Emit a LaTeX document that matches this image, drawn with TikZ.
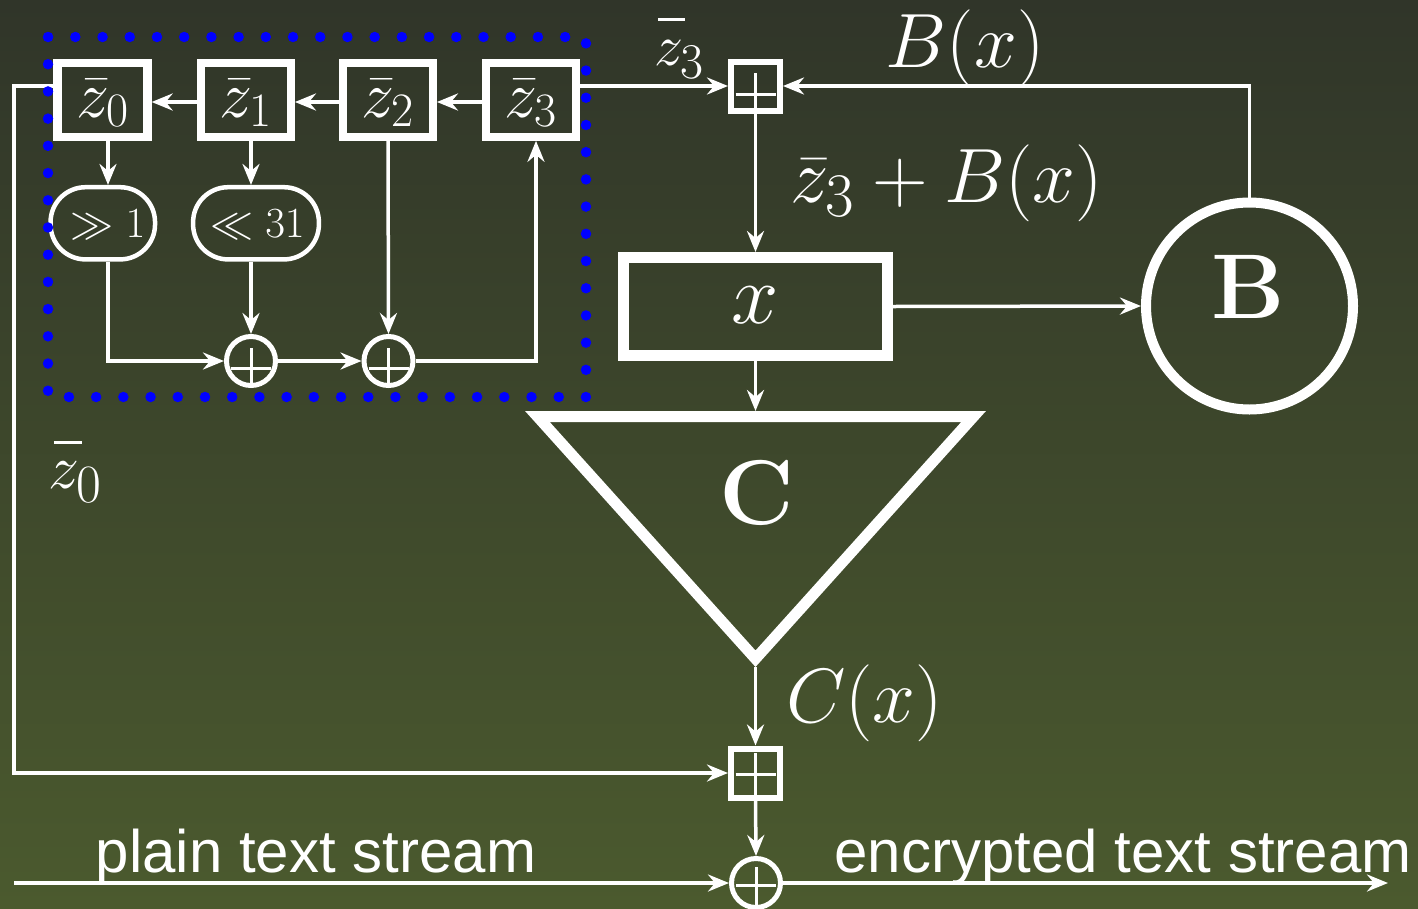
\RequirePackage{fix-cm}
\documentclass[tikz,border=0pt]{standalone}
\usepackage[no-math]{fontspec}
\newfontfamily\sansf{Liberation Sans}
\usetikzlibrary{arrows.meta,calc}
\definecolor{bgtop}{RGB}{48,53,41}
\definecolor{bgbot}{RGB}{75,90,46}
\newcommand{\mysub}[2]{_{\mbox{\fontsize{#1}{#1}\selectfont #2}}}
% z with a manually placed, raised bar: #1 = shift right, #2 = bar width
\newcommand{\highbarz}[2]{\mbox{\rlap{\hspace{#1}\rule[44pt]{#2}{3pt}}}z}
\newcommand{\fsreg}{\fontsize{66}{72}\selectfont}
\newcommand{\fsshift}{\fontsize{43}{48}\selectfont}
\newcommand{\fsbig}{\fontsize{77}{86}\selectfont}
\newcommand{\fstop}{\fontsize{58}{64}\selectfont}
\newcommand{\fsleft}{\fontsize{62}{70}\selectfont}
\newcommand{\fsx}{\fontsize{85}{95}\selectfont}
\newcommand{\fsbold}{\fontsize{92}{100}\selectfont\bfseries}
\newcommand{\fssans}{\sansf\fontsize{60}{70}\selectfont}
\begin{document}
\begin{tikzpicture}[x=1pt,y=-1pt,
  wl/.style={white, line width=3.5},
  arr/.style={wl, -{Stealth[length=21pt,width=17pt,inset=7pt]}},
  plusln/.style={white, line width=3},
  reg/.style={draw=white, line width=8.3, rectangle, minimum width=90, minimum height=73.4, inner sep=0},
  shiftbox/.style={draw=white, line width=4.5, rectangle, rounded corners=35, minimum height=72.2, inner sep=0},
  oplusnode/.style={draw=white, line width=5, circle, minimum size=49, inner sep=0},
  bplus/.style={draw=white, line width=6, rectangle, minimum size=49, inner sep=0},
  lbl/.style={text=white, inner sep=0, anchor=base},
]
\shade[top color=bgtop, bottom color=bgbot] (0,0) rectangle (1418,908);
\useasboundingbox (0,0) rectangle (1418,908);

% helper coordinates
\coordinate (c0) at (108,0);
\coordinate (c1) at (251,0);
\coordinate (c2) at (388,0);
\coordinate (c3) at (536,0);
\coordinate (r0) at (0,86);
\coordinate (lft) at (14,0);

% register boxes
\node[reg] (z0) at (102.5,100) {};
\node[reg] (z1) at (245.8,100) {};
\node[reg] (z2) at (387.8,100) {};
\node[reg] (z3) at (530.8,100) {};
\node[lbl, font=\fsreg] (z0t) at (102.5,117) {$\bar{z}\mysub{48}{0}$};
\node[lbl, font=\fsreg] (z1t) at (245.8,117) {$\bar{z}\mysub{48}{1}$};
\node[lbl, font=\fsreg] (z2t) at (387.8,117) {$\bar{z}\mysub{48}{2}$};
\node[lbl, font=\fsreg] (z3t) at (530.8,117) {$\bar{z}\mysub{48}{3}$};

% shift nodes
\node[shiftbox, minimum width=104.5] (s1) at (102.8,223.3) {};
\node[shiftbox, minimum width=125.8] (s2) at (256,223.3) {};
\node[lbl, font=\fsshift] (s1t) at (108,237) {$\gg 1$};
\node[lbl, font=\fsshift] (s2t) at (257.5,237) {$\ll 31$};

% xor circles in LFSR
\node[oplusnode] (p1) at (251,361) {};
\node[oplusnode] (p2) at (388.5,361) {};
\foreach \n in {p1,p2}{
  \draw[plusln] ($(\n)+(-20,7)$) -- ($(\n)+(20,7)$);
  \draw[plusln] ($(\n)+(0,-13)$) -- ($(\n)+(0,25)$);
}

% LFSR connectors
\draw[arr] ($(z3.west)+(0,2)$) -- ($(z2.east)+(0,2)$);
\draw[arr] ($(z2.west)+(0,2)$) -- ($(z1.east)+(0,2)$);
\draw[arr] ($(z1.west)+(0,2)$) -- ($(z0.east)+(0,2)$);
\draw[arr] (z0.south -| c0) -- (s1.north -| c0);
\draw[arr] (z1.south -| c1) -- (s2.north -| c1);
\draw[arr] (s2.south -| c1) -- (p1.north);
\draw[arr] (s1.south -| c0) |- (p1.west);
\draw[arr] (p1.east) -- (p2.west);
\draw[arr] (z2.south -| c2) -- (p2.north);
\draw[arr] (p2.east) -| (z3.south -| c3);

% modular adders
\node[bplus] (bp1) at (755.5,86) {};
\node[bplus] (bp2) at (755.5,773) {};
\draw[plusln] ($(bp1)+(-20,8)$) -- ($(bp1)+(20,8)$);
\draw[plusln] ($(bp1)+(0,-13)$) -- ($(bp1)+(0,24.5)$);
\draw[plusln] ($(bp2)+(-20,1)$) -- ($(bp2)+(20,1)$);
\draw[plusln] ($(bp2)+(0,-20)$) -- ($(bp2)+(0,24.5)$);

% final xor
\node[oplusnode] (xo) at (756,883) {};
\draw[plusln] ($(xo)+(-20,2)$) -- ($(xo)+(20,2)$);
\draw[plusln] ($(xo)+(0,-16)$) -- ($(xo)+(0,25)$);

% x box, B circle, C triangle
\node[draw=white, line width=11, rectangle, minimum width=264, minimum height=98, inner sep=0] (xb) at (755.5,306.5) {};
\node[lbl, font=\fsx] (xt) at (755.5,323) {$x$};
\node[draw=white, line width=10, circle, minimum size=207, inner sep=0] (B) at (1249.5,306) {};
\node[lbl, font=\fsbold] (Bt) at (1248,318) {B};
\draw[white, line width=11, line join=miter] (537.4,416.5) -- (973.6,416.5) -- (755.5,658.7) -- cycle;
\coordinate (Ctop) at (755.5,411);
\coordinate (Capex) at (755.5,667);
\node[lbl, font=\fsbold] (Ct) at (756.5,524) {C};

% main connectors
\draw[arr] (z0.west |- r0) -| (lft |- bp2) -- (bp2.west);
\draw[arr] (z3.east |- r0) -- (bp1.west);
\draw[arr] (B.north) |- (bp1.east);
\draw[arr] (bp1.south) -- (xb.north);
\draw[arr] (xb.east) -- (B.west);
\draw[arr] (xb.south) -- (Ctop);
\draw[arr] (Capex) -- (bp2.north);
\draw[arr] (bp2.south) -- (xo.north);
\coordinate (pin) at (14,883);
\coordinate (pout) at (1388,883);
\draw[arr] (pin) -- (xo.west);
\draw[arr] (xo.east) -- (pout);

% labels
\node[lbl, font=\fstop] (lz3) at (679,65) {$\highbarz{4pt}{27pt}\mysub{50}{3}$};
\node[lbl, font=\fsbig] (lBx) at (965,67) {$B(x)$};
\node[lbl, font=\fsbig] (lsum) at (947,202) {$\bar{z}\mysub{62}{3}+B(x)$};
\node[lbl, font=\fsbig] (lCx) at (864.5,722.5) {$C(x)$};
\node[lbl, font=\fsleft] (lz0) at (75.5,488) {$\highbarz{5pt}{28pt}\mysub{54}{0}$};
\node[lbl, font=\fssans] (lplain) at (316,872) {plain text stream};
\node[lbl, font=\fssans] (lenc) at (1123,872) {encrypted text stream};

% dotted LFSR frame
\draw[blue, line width=10.5, line cap=round, dash pattern=on 0pt off 27.21pt] (48,37) rectangle (586,397);
\end{tikzpicture}
\end{document}
